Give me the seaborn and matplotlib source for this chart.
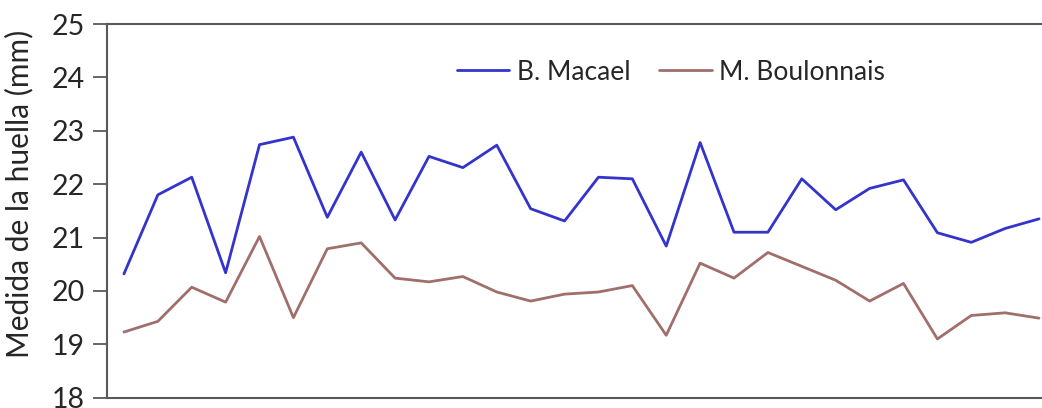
import numpy as np
import pandas as pd
import matplotlib
matplotlib.use("Agg")
import matplotlib.pyplot as plt
import seaborn as sns

series_names = ["B. Macael", "M. Boulonnais"]
macael = [20.32, 21.80, 22.13, 20.34, 22.74, 22.88, 21.38, 22.60, 21.33, 22.52,
          22.31, 22.73, 21.54, 21.31, 22.13, 22.10, 20.84, 22.78, 21.10, 21.10,
          22.10, 21.52, 21.92, 22.08, 21.09, 20.91, 21.17, 21.35]
boulonnais = [19.23, 19.43, 20.07, 19.79, 21.02, 19.50, 20.79, 20.90, 20.24, 20.17,
              20.27, 19.98, 19.81, 19.94, 19.98, 20.10, 19.17, 20.52, 20.24, 20.72,
              20.46, 20.20, 19.81, 20.14, 19.10, 19.54, 19.59, 19.49]
y_ticks = [18, 19, 20, 21, 22, 23, 24, 25]
y_label = "Medida de la huella (mm)"

n = len(macael)
df = pd.DataFrame({
    "idx": list(range(n)) * 2,
    "value": macael + boulonnais,
    "series": [series_names[0]] * n + [series_names[1]] * n,
})

sns.set_style("white")
plt.rcParams["font.family"] = ["Lato", "DejaVu Sans"]

fig = plt.figure(figsize=(10.42, 4.08), dpi=100)
ax = fig.add_axes([107 / 1042, 10.3 / 408, 949 / 1042, 373.7 / 408])

palette = {series_names[0]: "#3434cc", series_names[1]: "#a06f6c"}
sns.lineplot(data=df, x="idx", y="value", hue="series", palette=palette,
             linewidth=2.0, ax=ax, legend=True)

ax.set_xlim(-0.5, n - 0.5)
ax.set_ylim(18, 25)
ax.set_yticks(y_ticks)
ax.set_yticklabels([str(t) for t in y_ticks], fontsize=20.5, color="#262626")
ax.set_xticks([])
ax.set_xlabel("")
ax.set_ylabel(y_label, fontsize=21.5, color="#262626")
ax.yaxis.set_label_coords(-0.0775, 0.546)
ax.tick_params(axis="y", which="both", left=True, length=10, width=1.3,
               color="#595959", pad=6)

for side in ["left", "bottom", "top"]:
    ax.spines[side].set_visible(True)
    ax.spines[side].set_color("#595959")
    ax.spines[side].set_linewidth(1.5)
ax.spines["right"].set_visible(False)

leg = ax.legend(loc="center", bbox_to_anchor=(671 / 1042, 1 - 72 / 408),
                bbox_transform=fig.transFigure, ncol=2, frameon=False,
                fontsize=19, handlelength=2.0, columnspacing=1.05,
                handletextpad=0.3)
for t in leg.get_texts():
    t.set_color("#262626")

fig.savefig("out.png", dpi=100)
